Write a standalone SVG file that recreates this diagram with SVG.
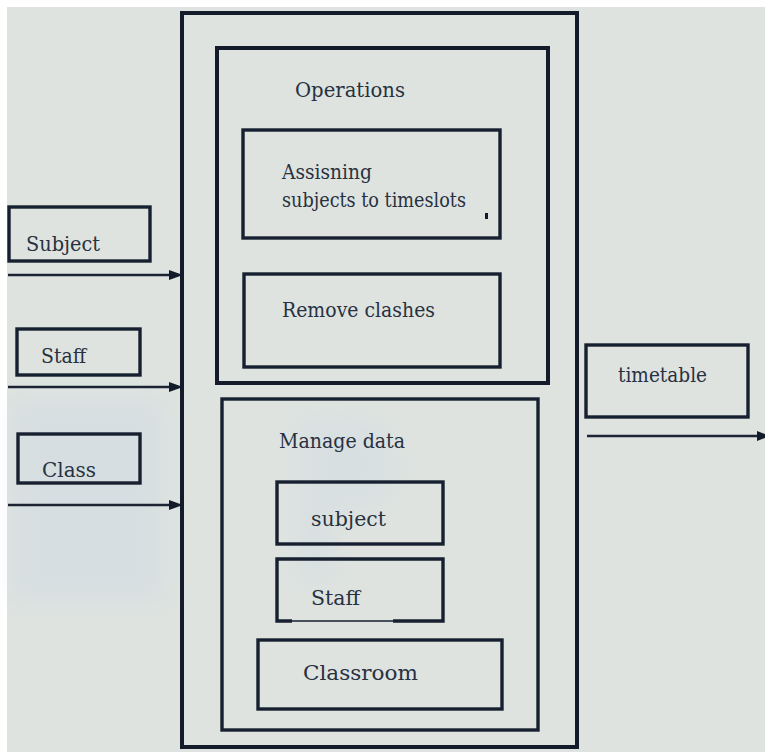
<svg xmlns="http://www.w3.org/2000/svg" width="765" height="752" viewBox="0 0 765 752">
  <style>
    .box { fill: none; stroke: #172030; stroke-width: 3.4; }
    .frame { fill: none; stroke: #141c2c; stroke-width: 4; }
    .lbl { font-family: "DejaVu Serif", "Liberation Serif", "Times New Roman", serif; font-size: 20.5px; fill: #283140; }
    .wire { stroke: #1c2434; stroke-width: 2.6; fill: none; }
    .head { fill: #141c2c; }
  </style>
  <defs>
    <filter id="soft" x="-20%" y="-20%" width="140%" height="140%">
      <feGaussianBlur stdDeviation="10"/>
    </filter>
  </defs>

  <!-- paper and margin -->
  <rect x="0" y="0" width="765" height="752" fill="#ffffff"/>
  <rect x="7" y="7" width="758" height="745" fill="#dee3e0"/>

  <!-- faint bluish print-through on the paper -->
  <g opacity="0.25" filter="url(#soft)">
    <rect x="12" y="400" width="150" height="200" fill="#c3d2e4"/>
    <path d="M300 420 h50 a45 45 0 0 1 0 90 h-20 v70 h-30 z" fill="#c8d6e6"/>
  </g>

  <!-- outer system boundary -->
  <g id="system">
    <rect class="frame" x="182" y="13" width="395" height="734"/>
  </g>

  <!-- Operations group -->
  <g id="operations">
    <rect class="frame" x="217" y="48" width="331" height="335" stroke-width="3.6"/>
    <text class="lbl" x="295" y="97" textLength="110" lengthAdjust="spacingAndGlyphs">Operations</text>
  </g>
  <g id="assign">
    <rect class="box" x="243" y="130" width="257" height="108"/>
    <text class="lbl" x="282" y="179" textLength="90" lengthAdjust="spacingAndGlyphs">Assisning</text>
    <text class="lbl" x="282" y="207" textLength="184" lengthAdjust="spacingAndGlyphs">subjects to timeslots</text>
    <rect x="485" y="213" width="3" height="6" fill="#141c2c"/>
  </g>
  <g id="remove-clashes">
    <rect class="box" x="244" y="274" width="256" height="93"/>
    <text class="lbl" x="282" y="317" textLength="153" lengthAdjust="spacingAndGlyphs">Remove clashes</text>
  </g>

  <!-- Manage data group -->
  <g id="manage-data">
    <rect class="box" x="222" y="399" width="316" height="331"/>
    <text class="lbl" x="279" y="448" textLength="126" lengthAdjust="spacingAndGlyphs">Manage data</text>
  </g>
  <g id="md-subject">
    <rect class="box" x="277" y="482" width="166" height="62"/>
    <text class="lbl" x="311" y="526" textLength="75" lengthAdjust="spacingAndGlyphs">subject</text>
  </g>
  <g id="md-staff">
    <path class="box" d="M292 621 H277 V559 H443 V621 H393"/>
    <line x1="292" y1="621" x2="393" y2="621" stroke="#172030" stroke-width="1.4"/>
    <text class="lbl" x="311" y="605" textLength="49" lengthAdjust="spacingAndGlyphs">Staff</text>
  </g>
  <g id="md-classroom">
    <rect class="box" x="258" y="640" width="244" height="69"/>
    <text class="lbl" x="303" y="680" textLength="115" lengthAdjust="spacingAndGlyphs">Classroom</text>
  </g>

  <!-- external inputs -->
  <g id="in-subject">
    <rect class="box" x="9" y="207" width="141" height="54"/>
    <text class="lbl" x="26" y="251" textLength="74" lengthAdjust="spacingAndGlyphs">Subject</text>
  </g>
  <g id="in-staff">
    <rect class="box" x="17" y="329" width="123" height="46"/>
    <text class="lbl" x="41" y="363" textLength="45" lengthAdjust="spacingAndGlyphs">Staff</text>
  </g>
  <g id="in-class">
    <rect class="box" x="18" y="434" width="122" height="49"/>
    <text class="lbl" x="42" y="477" textLength="54" lengthAdjust="spacingAndGlyphs">Class</text>
  </g>

  <!-- external output -->
  <g id="out-timetable">
    <rect class="box" x="586" y="345" width="162" height="72"/>
    <text class="lbl" x="618" y="382" textLength="89" lengthAdjust="spacingAndGlyphs">timetable</text>
  </g>

  <!-- data flows -->
  <g id="connectors">
    <line class="wire" x1="8" y1="275" x2="171" y2="275"/>
    <polygon class="head" points="169,270 183,275 169,280"/>
    <line class="wire" x1="8" y1="387" x2="171" y2="387"/>
    <polygon class="head" points="169,382 183,387 169,392"/>
    <line class="wire" x1="8" y1="505" x2="171" y2="505"/>
    <polygon class="head" points="169,500 183,505 169,510"/>
    <line class="wire" x1="587" y1="436" x2="760" y2="436"/>
    <polygon class="head" points="757,431 770,436 757,441"/>
  </g>
</svg>
